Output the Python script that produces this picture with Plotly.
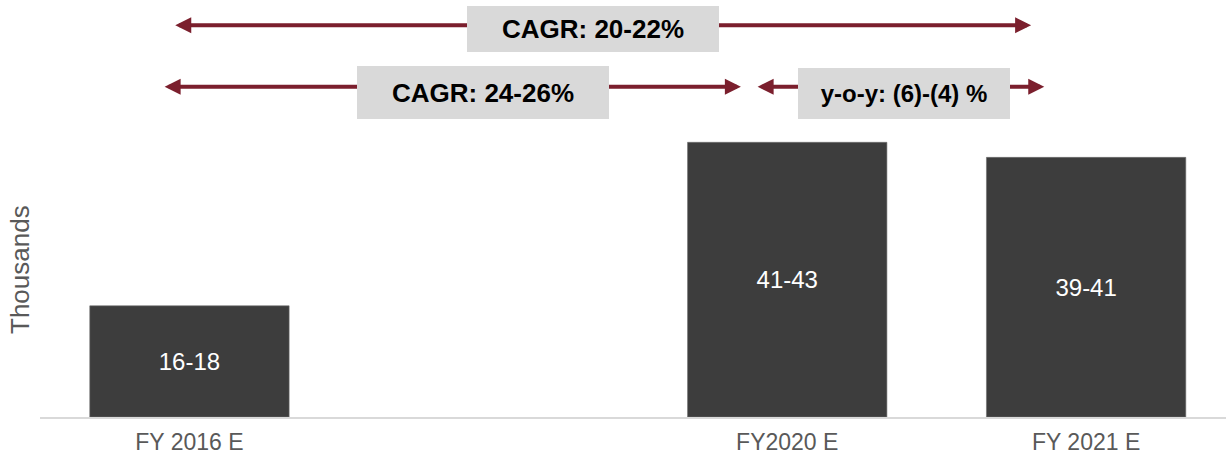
import plotly.graph_objects as go

# ---- data ----
categories = ["FY 2016 E", " ", "FY2020 E", "FY 2021 E"]   # " " = empty slot
bar_categories = ["FY 2016 E", "FY2020 E", "FY 2021 E"]
bar_values = [17, 42, 39.7]
bar_labels = ["16-18", "41-43", "39-41"]

growth_labels = ["CAGR: 20-22%", "CAGR: 24-26%", "y-o-y: (6)-(4) %"]

FONT = "Liberation Sans, Arial, sans-serif"
ARROW = "#7B1F2D"
BOX = "#D9D9D9"

W, H = 1226, 457
ML, MR, MT, MB = 40, 0, 0, 40
pw, ph = W - ML - MR, H - MT - MB

fig = go.Figure()
fig.add_trace(go.Bar(
    x=bar_categories, y=bar_values,
    text=bar_labels, textposition="inside", insidetextanchor="middle",
    textfont=dict(color="white", size=24, family=FONT),
    marker=dict(color="#3D3D3D", line=dict(color="#6E6E6E", width=0.6)),
    hoverinfo="skip",
))

annotations = []

def arrow(x0, x1, y):
    annotations.append(dict(
        x=x1, y=y, ax=x0, ay=y, xref="x", yref="y", axref="x", ayref="y",
        text="", showarrow=True, arrowside="end+start",
        arrowhead=2, startarrowhead=2, arrowsize=0.8, startarrowsize=0.8,
        arrowwidth=4, arrowcolor=ARROW, standoff=0, startstandoff=0,
    ))

def box(x, y, text, w, h, size):
    annotations.append(dict(
        x=x, y=y, xref="x", yref="y", text="<b>" + text + "</b>",
        showarrow=False, bgcolor=BOX, borderpad=0, borderwidth=0,
        width=w, height=h, align="center", valign="middle",
        xanchor="center", yanchor="middle",
        font=dict(family=FONT, size=size, color="black"),
    ))

# arrows (data x = category index)
arrow(-0.0525, 2.816, 59.9)
arrow(-0.088, 1.845, 50.5)
arrow(1.896, 2.860, 50.5)

box(1.351, 59.4, growth_labels[0], 252, 46, 26)
box(0.983, 49.6, growth_labels[1], 252, 53, 26)
box(2.391, 49.5, growth_labels[2], 212, 51, 24)

annotations.append(dict(
    x=(20 - ML) / pw, y=1 - (270 - MT) / ph, xref="paper", yref="paper",
    xanchor="center", yanchor="middle",
    text="Thousands", showarrow=False, textangle=-90,
    font=dict(family=FONT, size=26, color="#595959"),
))

fig.update_layout(
    width=W, height=H,
    margin=dict(l=ML, r=MR, t=MT, b=MB, pad=0, autoexpand=False),
    paper_bgcolor="white", plot_bgcolor="white",
    showlegend=False, bargap=0.333,
    annotations=annotations,
    xaxis=dict(
        type="category", categoryorder="array", categoryarray=categories,
        range=[-0.5, 3.468], showline=True, linecolor="#D9D9D9", linewidth=2,
        ticks="outside", ticklen=3, tickcolor="rgba(0,0,0,0)",
        tickfont=dict(family=FONT, size=23, color="#595959"),
        showgrid=False, zeroline=False, fixedrange=True, automargin=False,
    ),
    yaxis=dict(
        range=[0, 63.76], visible=False, showgrid=False, zeroline=False,
        fixedrange=True, automargin=False,
    ),
)

fig.write_html(
    "out.html",
    config={"displayModeBar": False},
    post_script="document.body.style.margin='0';document.body.style.overflow='hidden';",
)
